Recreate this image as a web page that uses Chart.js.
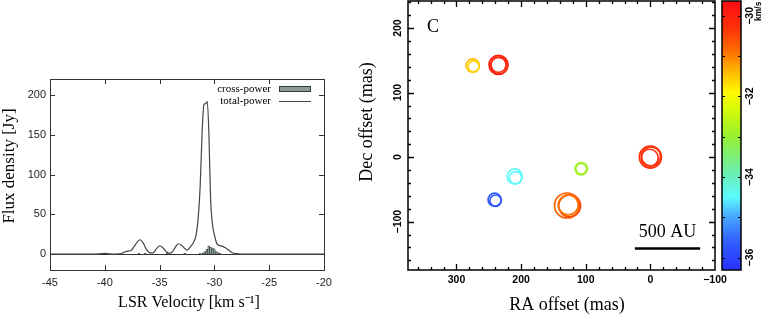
<!DOCTYPE html>
<html>
<head>
<meta charset="utf-8">
<script src="https://cdn.jsdelivr.net/npm/chart.js@4.4.1/dist/chart.umd.min.js"></script>
<style>
  body { margin: 0; background: #fff; }
  #wrap { position: relative; width: 764px; height: 316px; }
  .box { position: absolute; top: 0; height: 316px; }
  #left { left: 0; width: 340px; }
  #right { left: 340px; width: 424px; }
</style>
</head>
<body>
<div id="wrap">
  <div class="box" id="left"><canvas id="spectrum"></canvas></div>
  <div class="box" id="right"><canvas id="spotMap"></canvas></div>
</div>
<script>
// --- spectrum (left panel) ---
const totalVel  = [-45, -41, -40.3, -40, -39.6, -39, -38.5, -38.2, -37.9, -37.6, -37.3, -37.0, -36.8, -36.5, -36.2, -35.9, -35.6,
                   -35.3, -35.0, -34.7, -34.4, -34.1, -33.8, -33.5, -33.3, -33.0, -32.7, -32.5, -32.2, -31.9, -31.7, -31.5,
                   -31.3, -31.1, -30.95, -30.8, -30.65, -30.5, -30.35, -30.2, -30.0, -29.8, -29.6, -29.3, -29.0, -28.7,
                   -28.4, -28.1, -27.5, -20];
const totalFlux = [0, 0, 0.6, 0.8, 0.3, 0, 0.6, 2.5, 3.8, 4.5, 10, 16, 18, 14, 6, 1.5, 1.5,
                   6.5, 10.5, 8, 3, 1, 3.5, 10, 13, 11, 7, 5, 9, 15, 22, 42,
                   85, 160, 188, 189, 192, 150, 70, 40, 24, 14, 11, 10, 8, 5,
                   2, 0.5, 0, 0];
const crossVel  = [-36.9, -36.3, -34.3, -32.7, -31.3, -31.03, -30.86, -30.69, -30.52, -30.35, -30.18, -30.01, -29.84, -29.67, -29.5];
const crossFlux = [1.2, 0.8, 1, 1.2, 1, 1.5, 3, 6, 10, 8.5, 7.5, 6.5, 3, 2, 1];
const velTicks  = [-45, -40, -35, -30, -25, -20];
const fluxTicks = [0, 50, 100, 150, 200];

// --- spot map (right panel) ---
const spotRA   = [275, 273.5, 235, 235, 234, 0, -1, 1, 107, 107, 210, 208.5, 241, 239.5, 129, 125, 127];
const spotDec  = [142, 140.5, 143, 143, 142, 0, 1, -1, -18, -18, -30, -32, -66, -67.5, -75, -75.5, -74];
const spotVel  = [-31.45, -31.6, -29.95, -30.05, -30.1, -30.25, -30.35, -30.2, -32.85, -32.9, -34.4, -34.5, -35.6, -35.7, -30.75, -30.55, -30.9];
const spotFlux = [0.8, 0.2, 4.7, 1.8, 3.0, 8, 4.7, 3.0, 0.55, 0.15, 1.7, 0.5, 0.76, 0.25, 12, 8, 5.7];
const raTicks  = [300, 200, 100, 0, -100];
const decTicks = [200, 100, 0, -100];
const cbarTicks = [-30, -32, -34, -36];

// jet-like colour table for the velocity bar
const cmap = [
  [-36.3, [40, 50, 255]], [-35.6, [50, 95, 255]], [-35.0, [70, 165, 255]], [-34.5, [92, 250, 255]],
  [-34.0, [105, 240, 190]], [-33.5, [125, 238, 120]], [-33.0, [152, 240, 50]], [-32.4, [205, 250, 10]],
  [-31.9, [255, 250, 0]], [-31.4, [255, 185, 0]], [-30.8, [255, 100, 0]], [-30.3, [255, 50, 10]],
  [-29.6, [255, 10, 20]]
];

function velColor(v) {
  if (v <= cmap[0][0]) return 'rgb(' + cmap[0][1].join(',') + ')';
  for (let i = 1; i < cmap.length; i++) {
    if (v <= cmap[i][0]) {
      const t = (v - cmap[i - 1][0]) / (cmap[i][0] - cmap[i - 1][0]);
      const c = cmap[i - 1][1].map((a, k) => Math.round(a + (cmap[i][1][k] - a) * t));
      return 'rgb(' + c.join(',') + ')';
    }
  }
  return 'rgb(' + cmap[cmap.length - 1][1].join(',') + ')';
}

function spotRadius(f) {
  return 4.5 + 2.3 * Math.sqrt(f);
}

function rotText(ctx, text, x, y, font, align) {
  ctx.save();
  ctx.font = font;
  ctx.translate(x, y);
  ctx.rotate(-Math.PI / 2);
  ctx.textAlign = align || 'center';
  ctx.textBaseline = 'middle';
  ctx.fillText(text, 0, 0);
  ctx.restore();
}

Chart.defaults.font.family = '"Liberation Sans", Arial, sans-serif';
Chart.defaults.color = '#000';
Chart.defaults.animation = false;
Chart.defaults.plugins.legend.display = false;
Chart.defaults.plugins.tooltip.enabled = false;

const serif = '"Liberation Serif", "Times New Roman", serif';

// inward ticks on all four sides
function drawTicks(ctx, a, xs, ys, xVals, yVals, len, color, lw) {
  ctx.strokeStyle = color;
  ctx.lineWidth = lw;
  ctx.beginPath();
  xVals.forEach(v => {
    const px = Math.round(xs.getPixelForValue(v)) + 0.5;
    if (px <= a.left + 1 || px >= a.right - 1) return;
    ctx.moveTo(px, a.bottom); ctx.lineTo(px, a.bottom - len);
    ctx.moveTo(px, a.top); ctx.lineTo(px, a.top + len);
  });
  yVals.forEach(v => {
    const py = Math.round(ys.getPixelForValue(v)) + 0.5;
    if (py <= a.top + 1 || py >= a.bottom - 1) return;
    ctx.moveTo(a.left, py); ctx.lineTo(a.left + len, py);
    ctx.moveTo(a.right, py); ctx.lineTo(a.right - len, py);
  });
  ctx.stroke();
}

const spectrumDecor = {
  id: 'spectrumDecor',
  beforeDatasetsDraw(chart) {
    const {ctx, chartArea: a, scales: {y}} = chart;
    ctx.save();
    ctx.strokeStyle = '#333';
    ctx.lineWidth = 1;
    const y0 = Math.round(y.getPixelForValue(0)) + 0.5;
    ctx.beginPath(); ctx.moveTo(a.left, y0); ctx.lineTo(a.right, y0); ctx.stroke();
    ctx.restore();
  },
  afterDraw(chart) {
    const {ctx, chartArea: a, scales: {x, y}} = chart;
    const ds = chart.data.datasets;
    ctx.save();
    ctx.strokeStyle = '#333';
    ctx.lineWidth = 1;
    ctx.strokeRect(a.left + 0.5, a.top + 0.5, a.right - a.left, a.bottom - a.top);
    drawTicks(ctx, a, x, y, velTicks, fluxTicks, 5, '#333', 1);

    // legend inside the plot
    ctx.fillStyle = '#000';
    ctx.font = '11px ' + serif;
    ctx.textAlign = 'right';
    ctx.textBaseline = 'middle';
    const textX = a.right - 53, boxX = a.right - 45, boxW = 32;
    let ly = a.top + 10;
    ctx.fillText(ds[0].label, textX, ly);
    ctx.fillStyle = ds[0].backgroundColor;
    ctx.fillRect(boxX, ly - 3, boxW, 6);
    ctx.strokeStyle = ds[0].borderColor;
    ctx.strokeRect(boxX + 0.5, ly - 2.5, boxW - 1, 5);
    ly = a.top + 22;
    ctx.fillStyle = '#000';
    ctx.fillText(ds[1].label, textX, ly);
    ctx.strokeStyle = ds[1].borderColor;
    ctx.beginPath(); ctx.moveTo(boxX, ly + 0.5); ctx.lineTo(boxX + boxW, ly + 0.5); ctx.stroke();

    // axis titles
    ctx.fillStyle = '#000';
    ctx.textAlign = 'center';
    ctx.font = '16px ' + serif;
    ctx.fillText('LSR Velocity [km s\u207B\u00B9]', (a.left + a.right) / 2 + 2, 303);
    rotText(ctx, 'Flux density [Jy]', 10, 166, '17px ' + serif);
    ctx.restore();
  }
};

new Chart(document.getElementById('spectrum'), {
  type: 'line',
  data: {
    datasets: [
      {
        type: 'bar',
        label: 'cross-power',
        data: crossVel.map((v, i) => ({x: v, y: crossFlux[i]})),
        backgroundColor: '#8b9b98',
        borderColor: '#2f3a38',
        borderWidth: 0.6,
        barThickness: 1.8,
        order: 1
      },
      {
        type: 'line',
        label: 'total-power',
        data: totalVel.map((v, i) => ({x: v, y: totalFlux[i]})),
        borderColor: '#444',
        borderWidth: 1.2,
        pointRadius: 0,
        cubicInterpolationMode: 'monotone',
        fill: false,
        order: 0
      }
    ]
  },
  options: {
    responsive: true,
    maintainAspectRatio: false,
    layout: { autoPadding: false, padding: { top: 79, right: 16, left: 0, bottom: 0 } },
    scales: {
      x: {
        type: 'linear', min: -45, max: -20, offset: false,
        grid: { display: false, drawTicks: false }, border: { display: false },
        afterBuildTicks: s => { s.ticks = velTicks.map(v => ({value: v})); },
        afterFit: s => { s.height = 46; },
        ticks: { font: { size: 11 }, color: '#222', padding: 6, maxRotation: 0, callback: v => String(v) }
      },
      y: {
        type: 'linear', min: -20, max: 220,
        grid: { display: false, drawTicks: false }, border: { display: false },
        afterBuildTicks: s => { s.ticks = fluxTicks.map(v => ({value: v})); },
        afterFit: s => { s.width = 50; },
        ticks: { font: { size: 11 }, color: '#222', padding: 4, callback: v => String(v) }
      }
    }
  },
  plugins: [spectrumDecor]
});

// --- spot map ---
const mapDecor = {
  id: 'mapDecor',
  afterDraw(chart) {
    const {ctx, chartArea: a, scales: {x, y, v}} = chart;
    ctx.save();

    // frame and ticks
    ctx.strokeStyle = '#000';
    ctx.lineWidth = 1.5;
    ctx.strokeRect(a.left, a.top, a.right - a.left, a.bottom - a.top);
    const minorX = [], minorY = [];
    for (let t = -80; t <= 360; t += 20) if (t % 100 !== 0) minorX.push(t);
    for (let t = -160; t <= 240; t += 20) if (t % 100 !== 0) minorY.push(t);
    drawTicks(ctx, a, x, y, raTicks, decTicks, 6, '#000', 1.3);
    drawTicks(ctx, a, x, y, minorX, minorY, 3, '#000', 1.3);

    // rotated Dec tick labels
    ctx.fillStyle = '#000';
    y.ticks.forEach(t => {
      const label = String(t.value).replace('-', '\u2212');
      rotText(ctx, label, a.left - 10, y.getPixelForValue(t.value), 'bold 10.5px "Liberation Sans"');
    });

    // axis titles
    ctx.font = '18px ' + serif;
    ctx.textAlign = 'center';
    ctx.textBaseline = 'middle';
    ctx.fillText('RA offset (mas)', 227, 305);
    rotText(ctx, 'Dec offset (mas)', 27, 122, '18px ' + serif);

    // panel letter
    ctx.font = '18px ' + serif;
    ctx.textAlign = 'left';
    ctx.fillText('C', a.left + 19, 27);

    // 500 AU scale bar, placed in mas
    const bx1 = x.getPixelForValue(24), bx2 = x.getPixelForValue(-77), by = y.getPixelForValue(-141.5);
    ctx.lineWidth = 2.5;
    ctx.beginPath(); ctx.moveTo(bx1, by); ctx.lineTo(bx2, by); ctx.stroke();
    ctx.textAlign = 'center';
    ctx.fillText('500 AU', (bx1 + bx2) / 2, by - 16);

    // colour bar
    const cx = a.right + 7, cw = 19;
    for (let py = Math.floor(a.top); py < a.bottom; py++) {
      ctx.fillStyle = velColor(v.getValueForPixel(py + 0.5));
      ctx.fillRect(cx, py, cw, 1);
    }
    ctx.strokeStyle = '#000';
    ctx.lineWidth = 1.5;
    ctx.strokeRect(cx, a.top, cw, a.bottom - a.top);
    ctx.lineWidth = 1.2;
    ctx.beginPath();
    for (let t = -36; t <= -30; t++) {
      const py = Math.round(v.getPixelForValue(t)) + 0.5;
      ctx.moveTo(cx, py); ctx.lineTo(cx + 3, py);
      ctx.moveTo(cx + cw, py); ctx.lineTo(cx + cw - 3, py);
    }
    ctx.stroke();
    ctx.fillStyle = '#000';
    cbarTicks.forEach(t => {
      rotText(ctx, String(t).replace('-', '\u2212'), cx + cw + 9, v.getPixelForValue(t), 'bold 10.5px "Liberation Sans"');
    });
    rotText(ctx, 'km/s', cx + cw + 18, 21, 'bold 8.5px "Liberation Sans"', 'left');
    ctx.restore();
  }
};

new Chart(document.getElementById('spotMap'), {
  type: 'scatter',
  data: {
    datasets: [{
      label: 'maser spots',
      data: spotRA.map((ra, i) => ({x: ra, y: spotDec[i], v: spotVel[i], f: spotFlux[i]})),
      pointRadius: c => (c.raw ? spotRadius(c.raw.f) : 4),
      pointHoverRadius: c => (c.raw ? spotRadius(c.raw.f) : 4),
      borderColor: c => (c.raw ? velColor(c.raw.v) : '#000'),
      backgroundColor: 'rgba(0,0,0,0)',
      borderWidth: 1.7
    }]
  },
  options: {
    responsive: true,
    maintainAspectRatio: false,
    layout: { autoPadding: false, padding: { top: 1, right: 0, left: 0, bottom: 0 } },
    scales: {
      x: {
        type: 'linear', reverse: true, min: -100, max: 375,
        grid: { display: false, drawTicks: false }, border: { display: false },
        afterBuildTicks: s => { s.ticks = raTicks.map(t => ({value: t})); },
        afterFit: s => { s.height = 46; },
        ticks: { font: { size: 10.5, weight: 'bold' }, padding: 4, maxRotation: 0,
                 callback: t => String(t).replace('-', '\u2212') }
      },
      y: {
        type: 'linear', min: -175, max: 242,
        grid: { display: false, drawTicks: false }, border: { display: false },
        afterBuildTicks: s => { s.ticks = decTicks.map(t => ({value: t})); },
        afterFit: s => { s.width = 68; },
        ticks: { display: false }
      },
      v: {
        type: 'linear', position: 'right', min: -36.31, max: -29.63,
        grid: { display: false, drawTicks: false }, border: { display: false },
        afterBuildTicks: s => { s.ticks = cbarTicks.map(t => ({value: t})); },
        afterFit: s => { s.width = 49; },
        ticks: { display: false }
      }
    }
  },
  plugins: [mapDecor]
});
</script>
</body>
</html>
